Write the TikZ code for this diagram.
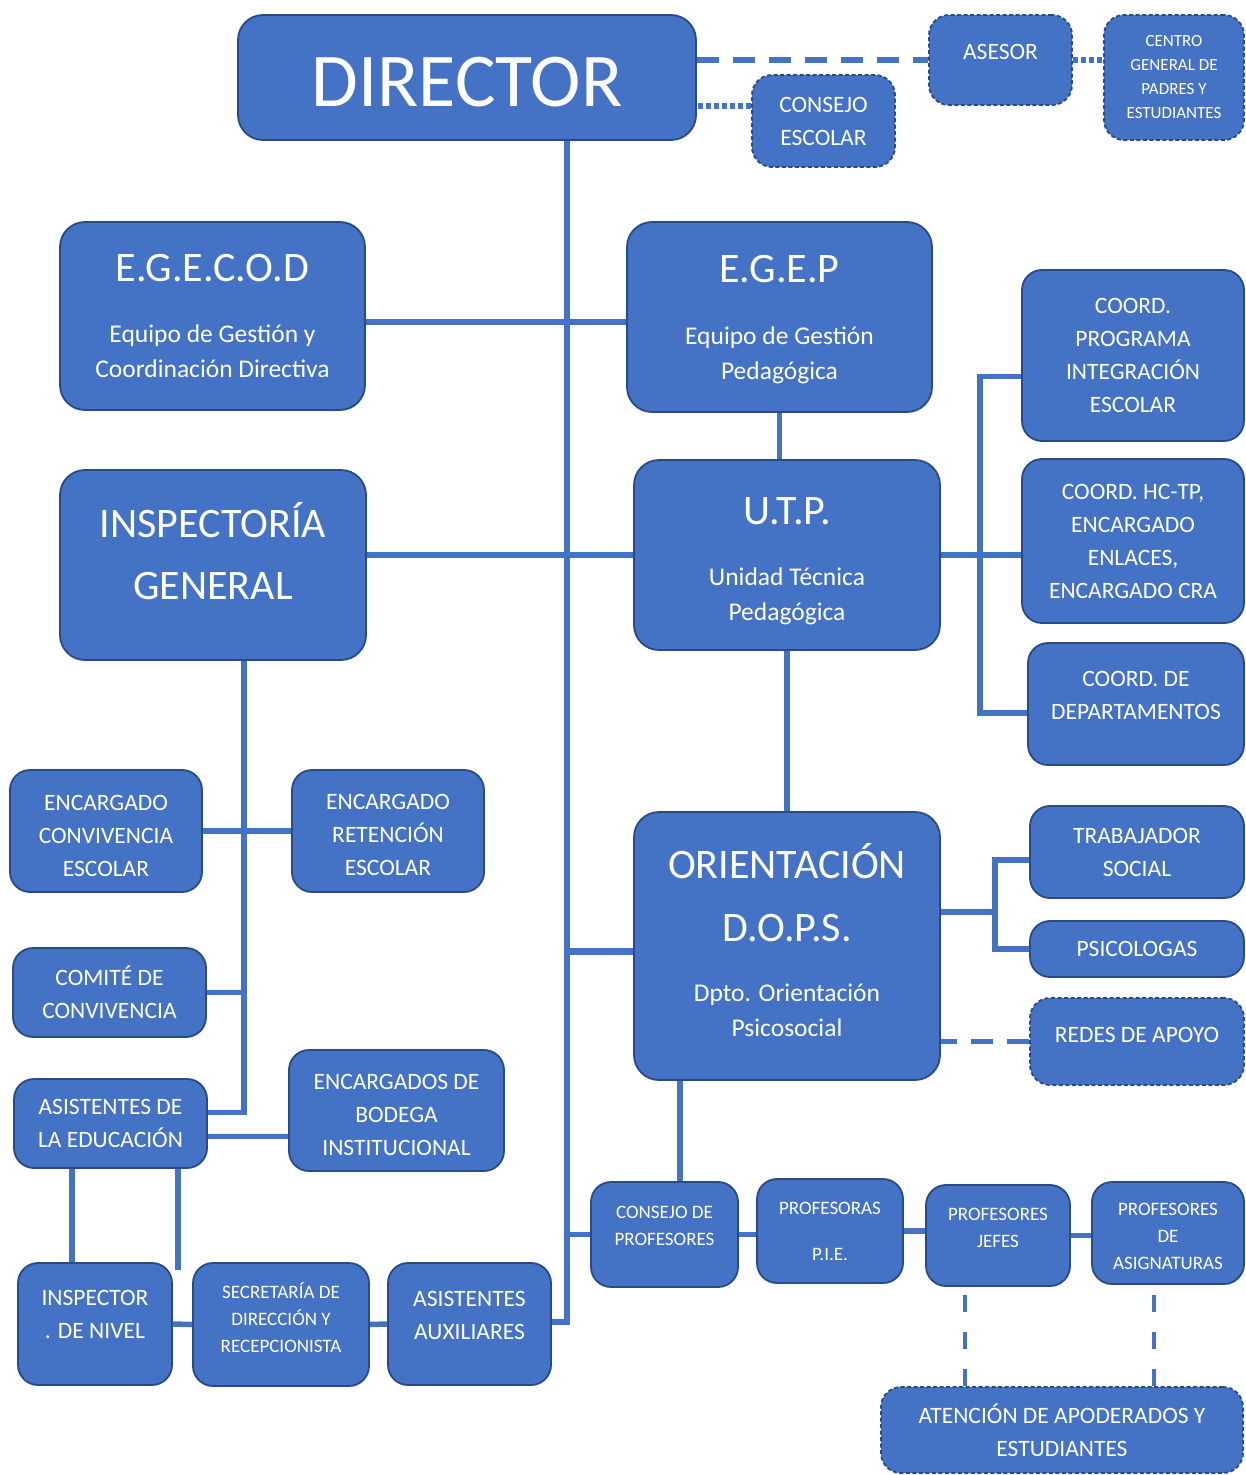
\documentclass[tikz,border=0pt]{standalone}
\usepackage{fontspec}
\setmainfont{Carlito}
\usetikzlibrary{calc}

\definecolor{orgfill}{HTML}{4472C4}
\definecolor{orgline}{HTML}{2A4A86}
\definecolor{orglink}{HTML}{4472C4}

\newcommand{\orgtitle}[1]{{\fontsize{42}{50}\selectfont #1}}

\tikzset{
  orgbox/.style={draw=orgline, fill=orgfill, line width=1.8pt, rounded corners=20pt, text=white, align=center, inner sep=0pt, font=\fontsize{23.5}{33}\selectfont},
  orgboxdash/.style={orgbox, dash pattern=on 4pt off 2.5pt},
  bigbox/.style={rounded corners=25pt},
  boxsize/.style 2 args={minimum width=#1pt, minimum height=#2pt},
  subtext/.style={font=\fontsize{25.5}{35}\selectfont},
  smalltext/.style={font=\fontsize{19}{27}\selectfont},
  tinytext/.style={font=\fontsize{17}{24}\selectfont},
  link/.style={draw=orglink, line width=5.5pt},
  linkdash/.style={link, dash pattern=on 22pt off 14pt},
  linkdot/.style={link, dash pattern=on 5pt off 3pt},
  linkdrop/.style={link, line width=4pt, dash pattern=on 17pt off 20pt},
}

\begin{document}
\begin{tikzpicture}[x=1pt,y=-1pt]
  \fill[white] (0,0) rectangle (1246,1475);

  \node[orgbox, bigbox, boxsize={458}{125}, font=\fontsize{76}{80}\selectfont, text height=58pt] (dir) at (467,77.5) {DIRECTOR};
  \node[orgboxdash, boxsize={143}{90}, text depth=17pt] (asesor) at (1000.5,60) {ASESOR};
  \node[orgboxdash, boxsize={140}{125}, tinytext] (centro) at (1174,77.5) {CENTRO\\GENERAL DE\\PADRES Y\\ESTUDIANTES};
  \node[orgboxdash, boxsize={143}{92}] (cesc) at (823.5,121) {CONSEJO\\ESCOLAR};

  \node[orgbox, bigbox, boxsize={305}{188}, subtext] (egecod) at (212.5,316) {\orgtitle{E.G.E.C.O.D}\\[26pt]Equipo de Gestión y\\Coordinación Directiva};
  \node[orgbox, bigbox, boxsize={305}{190}, subtext, text depth=0pt] (egep) at (779.5,317) {\orgtitle{E.G.E.P}\\[27pt]Equipo de Gestión\\Pedagógica};
  \node[orgbox, bigbox, boxsize={306}{190}, font=\fontsize{42}{62}\selectfont, text depth=28pt] (insp) at (213,565) {INSPECTORÍA\\GENERAL};
  \node[orgbox, bigbox, boxsize={306}{190}, subtext] (utp) at (787,555) {\orgtitle{\rule{0pt}{39pt}U.T.P.}\\[26pt]Unidad Técnica\\Pedagógica};
  \node[orgbox, bigbox, boxsize={306}{268}, subtext, text depth=13pt] (orient) at (787,946) {\orgtitle{ORIENTACIÓN}\\[28pt]\orgtitle{D.O.P.S.}\\[25pt]Dpto. Orientación\\Psicosocial};

  \node[orgbox, boxsize={222}{171}] (cpie) at (1133,355.5) {COORD.\\PROGRAMA\\INTEGRACIÓN\\ESCOLAR};
  \node[orgbox, boxsize={222}{164}] (chctp) at (1133,541) {COORD. HC-TP,\\ENCARGADO\\ENLACES,\\ENCARGADO CRA};
  \node[orgbox, boxsize={216}{122}, text depth=18pt] (cdep) at (1136,704) {COORD. DE\\DEPARTAMENTOS};
  \node[orgbox, boxsize={214}{92}] (trab) at (1137,852) {TRABAJADOR\\SOCIAL};
  \node[orgbox, boxsize={214}{56}] (psic) at (1137,949) {PSICOLOGAS};
  \node[orgboxdash, boxsize={214}{87}, text depth=14pt] (redes) at (1137,1041.5) {REDES DE APOYO};

  \node[orgbox, boxsize={147}{105}, smalltext, text depth=18pt] (cprof) at (664.5,1234.5) {CONSEJO DE\\PROFESORES};
  \node[orgbox, boxsize={146}{104}, smalltext] (pie) at (830,1231) {PROFESORAS\\[19pt]P.I.E.};
  \node[orgbox, boxsize={144}{101}, smalltext, text depth=16pt] (jefes) at (998,1235.5) {PROFESORES\\JEFES};
  \node[orgbox, boxsize={152}{102}, smalltext] (asig) at (1168,1233) {\rule{0pt}{20pt}PROFESORES\\DE\\ASIGNATURAS};
  \node[orgboxdash, boxsize={362}{86}] (atenc) at (1062,1430) {ATENCIÓN DE APODERADOS Y\\ESTUDIANTES};

  \node[orgbox, boxsize={192}{122}] (econv) at (106,831) {\rule{0pt}{25pt}ENCARGADO\\CONVIVENCIA\\ESCOLAR};
  \node[orgbox, boxsize={192}{122}] (eret) at (388,831) {\rule{0pt}{24pt}ENCARGADO\\RETENCIÓN\\ESCOLAR};
  \node[orgbox, boxsize={193}{89}] (comite) at (109.5,992.5) {COMITÉ DE\\CONVIVENCIA};
  \node[orgbox, boxsize={193}{89}] (asedu) at (110.5,1123.5) {ASISTENTES DE\\LA EDUCACIÓN};
  \node[orgbox, boxsize={215}{121}] (bodega) at (396.5,1110.5) {\rule{0pt}{24pt}ENCARGADOS DE\\BODEGA\\INSTITUCIONAL};
  \node[orgbox, boxsize={154}{122}, text depth=20pt] (insniv) at (95,1324) {INSPECTOR\\. DE NIVEL};
  \node[orgbox, boxsize={176}{123}, smalltext, text depth=13pt] (secre) at (281,1324.5) {SECRETARÍA DE\\DIRECCIÓN Y\\RECEPCIONISTA};
  \node[orgbox, boxsize={163}{122}, text depth=18pt] (aux) at (469.5,1324) {ASISTENTES\\AUXILIARES};

  \coordinate (trunk) at (567,1322);
  \coordinate (utpfork) at (980,555);
  \coordinate (dopsfork) at (995,912);
  \coordinate (egecodout) at ([yshift=-6pt]egecod.east);
  \coordinate (cescin) at ([yshift=15pt]cesc.west);
  \coordinate (cpiein) at ([yshift=-21pt]cpie.west);
  \coordinate (cdepin) at ([yshift=-9pt]cdep.west);
  \coordinate (trabin) at ([yshift=-8pt]trab.west);
  \coordinate (doutop) at ([yshift=34pt]orient.east);
  \coordinate (dinlow) at ([yshift=-5pt]orient.west);
  \coordinate (cprofin) at ([xshift=15.5pt]cprof.north);
  \coordinate (jefesdrop) at ([xshift=-33pt]jefes.south);
  \coordinate (asigdrop) at ([xshift=-14pt]asig.south);
  \coordinate (inspfork) at ([xshift=31pt]insp.south);
  \coordinate (asedutop) at ([yshift=11pt]asedu.east);
  \coordinate (asedulow) at ([yshift=-13pt]asedu.east);
  \coordinate (asedul) at ([xshift=-38.5pt]asedu.south);
  \coordinate (asedur) at ([xshift=67.5pt]asedu.south);
  \coordinate (aseduend) at (178,1270);

  \draw[linkdash] (dir.east |- asesor.west) -- (asesor.west);
  \draw[linkdot] (asesor.east) -- (asesor.east -| centro.west);
  \draw[linkdot] (cescin) -- (cescin -| dir.east);
  \draw[link, line width=6.5pt] (dir.south -| trunk) -- (trunk) -- (trunk -| aux.east);
  \draw[link] (egecodout) -- (egecodout -| egep.west);
  \draw[link] (egep.south) -- (egep.south |- utp.north);
  \draw[link] (insp.east |- utp.west) -- (utp.west);
  \draw[link] (utp.east) -- (utp.east -| chctp.west);
  \draw[link] (cpiein) -| (utpfork) |- (cdepin);
  \draw[link] (utp.south) -- (orient.north);
  \draw[link, line width=7pt] (dinlow) -- (dinlow -| trunk);
  \draw[link] (doutop) -- (dopsfork);
  \draw[link] (trabin) -| (dopsfork) |- (psic.west);
  \draw[linkdash] (redes.west) -- (redes.west -| orient.east);
  \draw[link] (cprofin) -- (cprofin |- orient.south);
  \draw[link] (cprof.west) -- (cprof.west -| trunk);
  \draw[link] (cprof.east) -- (cprof.east -| pie.west);
  \draw[link] (pie.east) -- (pie.east -| jefes.west);
  \draw[link] (jefes.east) -- (jefes.east -| asig.west);
  \draw[linkdrop] (jefesdrop |- atenc.north) -- (jefesdrop);
  \draw[linkdrop] (asigdrop |- atenc.north) -- (asigdrop);

  \draw[link] (inspfork) |- (asedutop);
  \draw[link] (econv.east) -- (eret.west);
  \draw[link] (comite.east) -- (comite.east -| inspfork);
  \draw[link] (asedulow) -- (asedulow -| bodega.west);
  \draw[link] (asedul) -- (asedul |- insniv.north);
  \draw[link] (asedur) -- (aseduend);
  \draw[link] (insniv.east) -- (secre.west);
  \draw[link] (secre.east) -- (aux.west);
\end{tikzpicture}
\end{document}
